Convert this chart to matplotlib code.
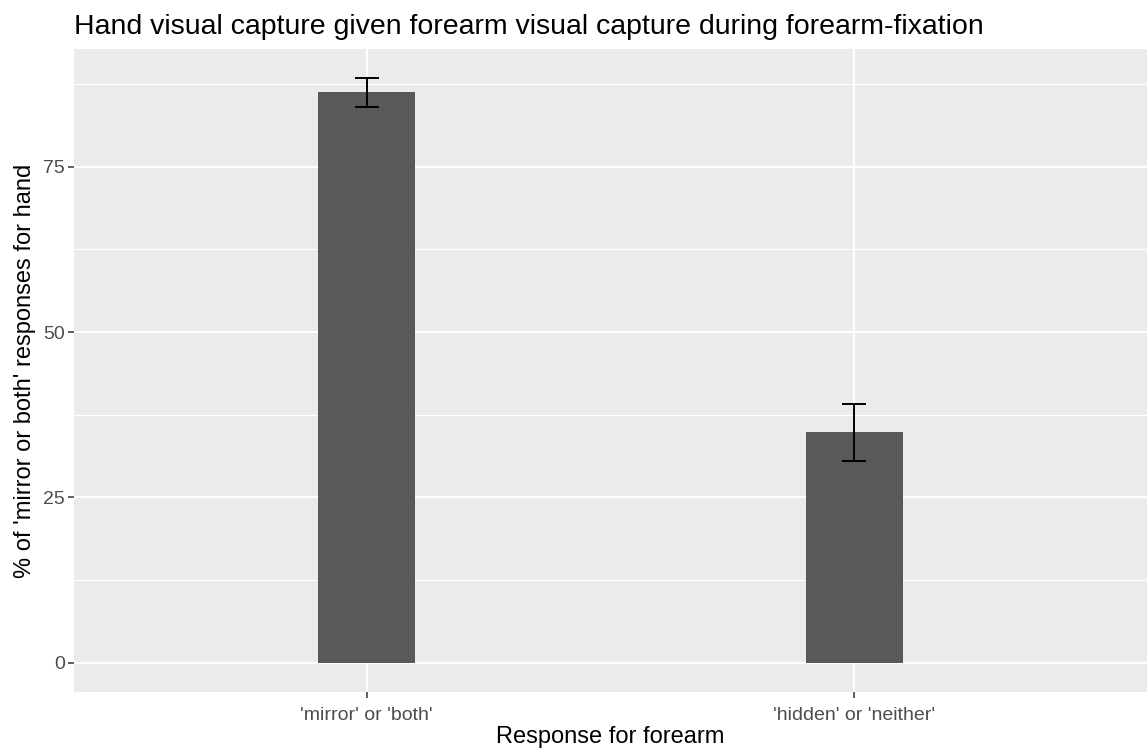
import numpy as np
import matplotlib.pyplot as plt

plt.rcParams['font.family'] = ['Liberation Sans', 'DejaVu Sans']

categories = ["'mirror' or 'both'", "'hidden' or 'neither'"]
pct_hand = [86.3, 34.9]
err_low = [84.0, 30.5]
err_high = [88.4, 39.2]

fig = plt.figure(figsize=(11.47, 7.53), dpi=100)
ax = fig.add_axes([74 / 1147, 61 / 753, 1 - 74 / 1147, (692 - 49) / 753])
ax.set_facecolor('#EBEBEB')

x = np.arange(1, len(categories) + 1)
vals = np.array(pct_hand)
lo = vals - np.array(err_low)
hi = np.array(err_high) - vals

# grid
for yv in [12.5, 37.5, 62.5, 87.5]:
    ax.axhline(yv, color='white', lw=0.8, zorder=0)
for yv in [0, 25, 50, 75]:
    ax.axhline(yv, color='white', lw=1.5, zorder=0)
for xv in x:
    ax.axvline(xv, color='white', lw=1.5, zorder=0)

ax.bar(x, vals, width=0.2, color='#595959', zorder=2)
ax.errorbar(x, vals, yerr=[lo, hi], fmt='none', ecolor='black',
            elinewidth=1.4, capsize=8.6, capthick=1.4, zorder=3)

ax.set_xlim(0.4, 2.6)
ax.set_ylim(-4.42, 92.8)
ax.set_xticks(x)
ax.set_xticklabels(categories)
ax.set_yticks([0, 25, 50, 75])
for s in ax.spines.values():
    s.set_visible(False)
ax.tick_params(colors='#333333', length=4, width=1.1, labelcolor='#4D4D4D',
               labelsize=14, pad=2.5)
ax.tick_params(axis='x', pad=7)

ax.set_xlabel('Response for forearm', fontsize=17, color='black', labelpad=1)
ax.set_ylabel("% of 'mirror or both' responses for hand", fontsize=17,
              color='black', labelpad=5)
ax.set_title('Hand visual capture given forearm visual capture during forearm-fixation',
             loc='left', fontsize=20.5, color='black', pad=11)

fig.savefig('out.png', dpi=100)
